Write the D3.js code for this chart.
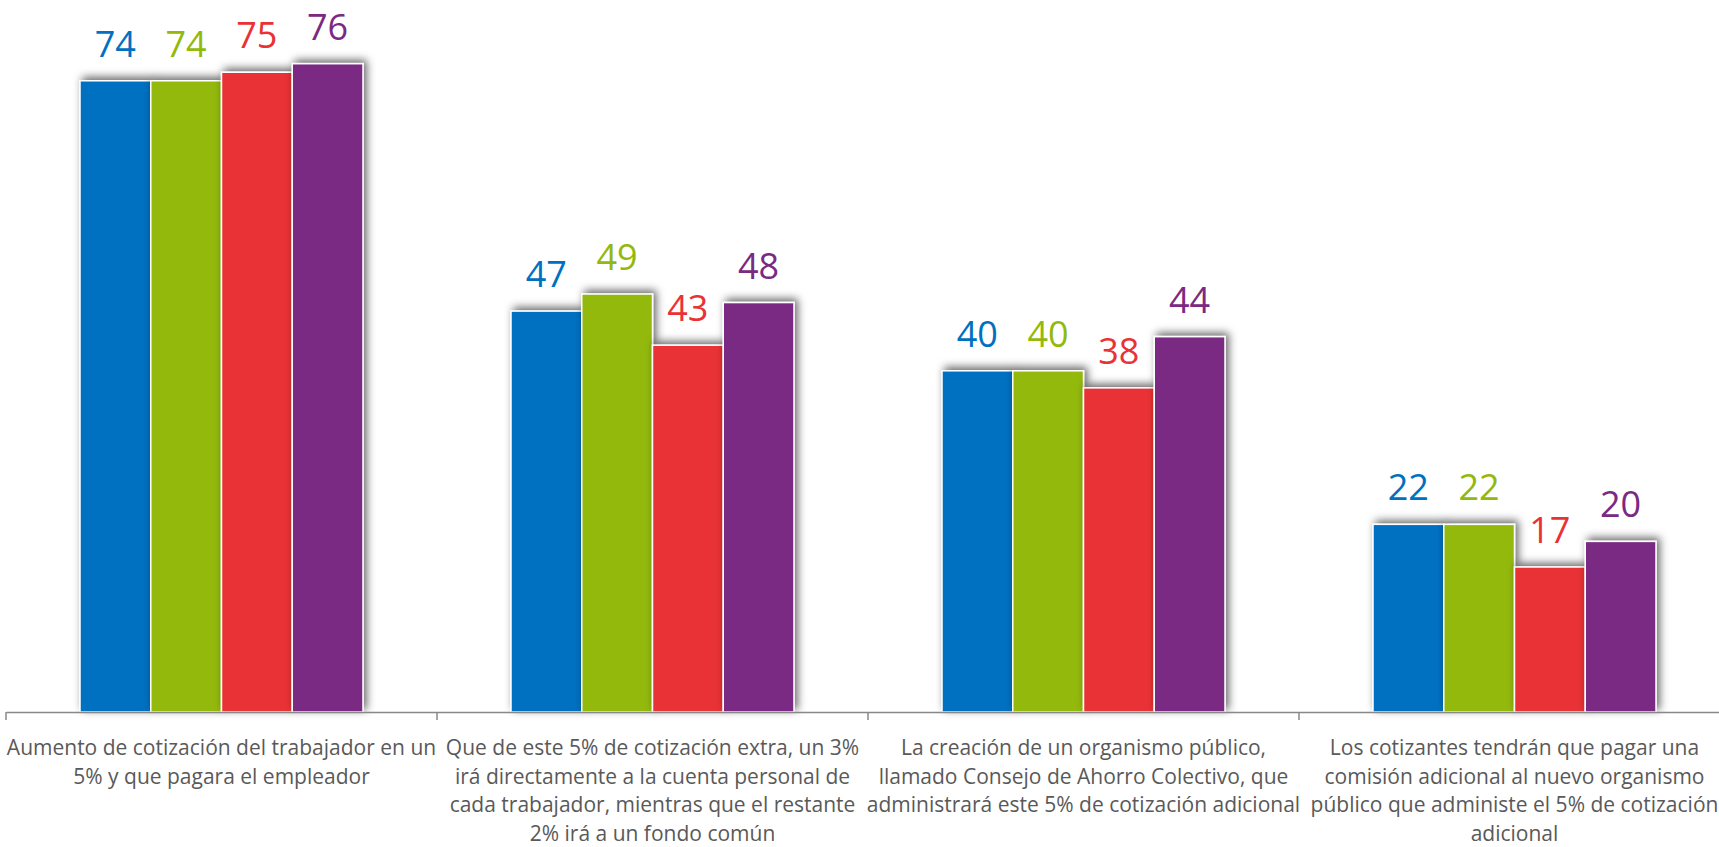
<!DOCTYPE html>
<html><head><meta charset="utf-8">
<script src="https://cdn.jsdelivr.net/npm/d3@7"></script>
<style>html,body{margin:0;padding:0;background:#fff;overflow:hidden}</style>
</head><body>
<svg id="c" width="1719" height="847"></svg>
<script>
const categories = [
  ["Aumento de cotización del trabajador en un", "5% y que pagara el empleador"],
  ["Que de este 5% de cotización extra, un 3%", "irá directamente a la cuenta personal de", "cada trabajador, mientras que el restante", "2% irá a un fondo común"],
  ["La creación de un organismo público,", "llamado Consejo de Ahorro Colectivo, que", "administrará este 5% de cotización adicional"],
  ["Los cotizantes tendrán que pagar una", "comisión adicional al nuevo organismo", "público que administe el 5% de cotización", "adicional"]
];
const seriesNames = ["S1", "S2", "S3", "S4"];
const seriesA = [74, 47, 40, 22];
const seriesB = [74, 49, 40, 22];
const seriesC = [75, 43, 38, 17];
const seriesD = [76, 48, 44, 20];
const colors = ["#0070C0", "#93B90C", "#E93236", "#7A2A83"];

const svg = d3.select("#c");
const defs = svg.append("defs");
const f = defs.append("filter").attr("id","sh").attr("x","-30%").attr("y","-30%").attr("width","160%").attr("height","160%");
f.append("feDropShadow").attr("dx",3).attr("dy",-3).attr("stdDeviation",4).attr("flood-color","#000").attr("flood-opacity",0.6);

const x0 = d3.scaleBand().domain(d3.range(categories.length)).range([6, 6 + 431*4]).paddingInner(0).paddingOuter(0);
const x1 = d3.scaleBand().domain(seriesNames).range([74, 431-74]).padding(0);
const y = d3.scaleLinear().domain([0, 80]).range([712, 712 - 80*8.53]);

const allSeries = [seriesA, seriesB, seriesC, seriesD];
const groups = svg.append("g").selectAll("g").data(categories).join("g")
  .attr("transform", (d,i)=>`translate(${x0(i)},0)`);

groups.each(function(d,i){
  const g = d3.select(this);
  seriesNames.forEach((s,j)=>{
    const v = allSeries[j][i];
    g.append("rect")
      .attr("x", x1(s)).attr("y", y(v))
      .attr("width", x1.bandwidth()).attr("height", y(0)-y(v))
      .attr("fill", colors[j]).attr("stroke","#fff").attr("stroke-width",1.5)
      .attr("filter","url(#sh)");
  });
  seriesNames.forEach((s,j)=>{
    const v = allSeries[j][i];
    g.append("text")
      .attr("x", x1(s)+x1.bandwidth()/2).attr("y", y(v)-24)
      .attr("text-anchor","middle")
      .attr("font-family","'Open Sans', sans-serif").attr("font-size",36)
      .attr("fill", colors[j]).text(v);
  });
});

// axis
const axis = d3.axisBottom(x0).tickSizeOuter(0).tickSize(0).tickFormat("");
const ag = svg.append("g").attr("transform","translate(0,712)").call(axis);
ag.select(".domain").attr("stroke","#888").attr("stroke-width",1.5);
const bounds = d3.range(categories.length+1).map(i=>6+i*431);
ag.selectAll(".bt").data(bounds).join("line").attr("class","bt")
  .attr("x1",d=>d).attr("x2",d=>d).attr("y1",0).attr("y2",8)
  .attr("stroke","#888").attr("stroke-width",1.5);

const lab = svg.append("g");
categories.forEach((lines,i)=>{
  const t = lab.append("text")
    .attr("text-anchor","middle")
    .attr("font-family","'Open Sans', sans-serif").attr("font-size",21)
    .attr("fill","#595959");
  lines.forEach((ln,k)=>{
    t.append("tspan").attr("x", x0(i)+x0.bandwidth()/2).attr("y", 755 + k*28.5).text(ln);
  });
});
</script>
</body></html>
